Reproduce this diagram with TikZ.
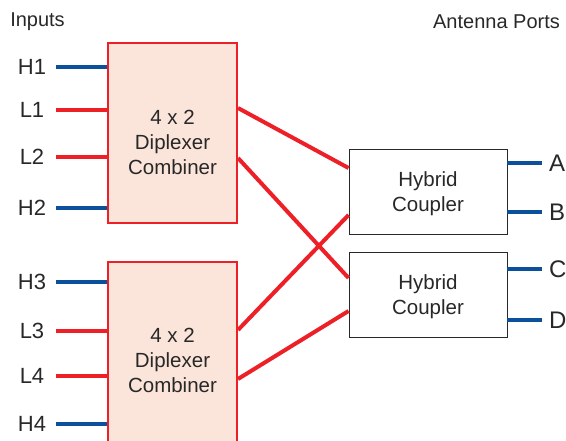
\documentclass[tikz,border=0pt]{standalone}
\usepackage{fontspec}
\setmainfont{Liberation Sans}
\definecolor{sred}{RGB}{237,32,39}
\definecolor{sblue}{RGB}{10,80,155}
\definecolor{peach}{RGB}{251,229,218}
\definecolor{dgray}{RGB}{40,40,40}
\begin{document}
\begin{tikzpicture}[x=1pt,y=-1pt,
  combiner/.style={draw=sred,line width=2pt,fill=peach,minimum width=129pt,minimum height=180pt,inner sep=0pt},
  hybrid/.style={draw=dgray,line width=0.9pt,fill=white,minimum width=158pt,minimum height=85pt,inner sep=0pt},
  boxtext/.style={align=center,font=\fontsize{20.5}{25}\selectfont,text=dgray},
  portlbl/.style={font=\fontsize{22}{26}\selectfont,text=dgray},
  outlbl/.style={font=\fontsize{24}{28}\selectfont,text=dgray},
  title/.style={font=\fontsize{20}{24}\selectfont,text=dgray},
  redline/.style={draw=sred,line width=4pt},
  blueline/.style={draw=sblue,line width=4pt}]
\useasboundingbox (0,0) rectangle (566,441);
% combiners
\node[combiner] (c1) at (172.5,133) {};
\node[combiner] (c2) at (172.5,352) {};
\node[boxtext] (c1t) at (172.5,142) {4 x 2\\Diplexer\\Combiner};
\node[boxtext] (c2t) at (172.5,360) {4 x 2\\Diplexer\\Combiner};
% hybrids
\node[hybrid] (h1) at (428,191.5) {};
\node[hybrid] (h2) at (428,294.5) {};
\node[boxtext] (h1t) at (428,194) {Hybrid\\Coupler};
\node[boxtext] (h2t) at (428,297) {Hybrid\\Coupler};
% titles
\node[title] (inp) at (37.5,22) {Inputs};
\node[title] (ant) at (496.5,22) {Antenna Ports};
% input labels and line starts
\foreach \n/\t/\y in {iH1/H1/67,iL1/L1/110,iL2/L2/157,iH2/H2/208,iH3/H3/282,iL3/L3/331,iL4/L4/376,iH4/H4/424}{
  \node[portlbl] (l\n) at (32,\y) {\t};
  \coordinate (\n) at (56,\y);
}
\draw[blueline] (iH1) -- (iH1 -| c1.west);
\draw[redline] (iL1) -- (iL1 -| c1.west);
\draw[redline] (iL2) -- (iL2 -| c1.west);
\draw[blueline] (iH2) -- (iH2 -| c1.west);
\draw[blueline] (iH3) -- (iH3 -| c2.west);
\draw[redline] (iL3) -- (iL3 -| c2.west);
\draw[redline] (iL4) -- (iL4 -| c2.west);
\draw[blueline] (iH4) -- (iH4 -| c2.west);
% cross connections
\coordinate (c1a) at (c1.east |- 0,108);
\coordinate (c1b) at (c1.east |- 0,158);
\coordinate (c2a) at (c2.east |- 0,330);
\coordinate (c2b) at (c2.east |- 0,379);
\coordinate (h1a) at (h1.west |- 0,168);
\coordinate (h1b) at (h1.west |- 0,215);
\coordinate (h2a) at (h2.west |- 0,278);
\coordinate (h2b) at (h2.west |- 0,311);
\draw[redline] (c1a) -- (h1a);
\draw[redline] (c1b) -- (h2a);
\draw[redline] (c2a) -- (h1b);
\draw[redline] (c2b) -- (h2b);
% outputs
\foreach \n/\t/\y in {oA/A/163,oB/B/212,oC/C/269,oD/D/320}{
  \coordinate (\n) at (542,\y);
  \node[outlbl,anchor=west,inner sep=0pt] (l\n) at (549,\y) {\t};
}
\draw[blueline] (oA -| h1.east) -- (oA);
\draw[blueline] (oB -| h1.east) -- (oB);
\draw[blueline] (oC -| h2.east) -- (oC);
\draw[blueline] (oD -| h2.east) -- (oD);
\end{tikzpicture}
\end{document}
